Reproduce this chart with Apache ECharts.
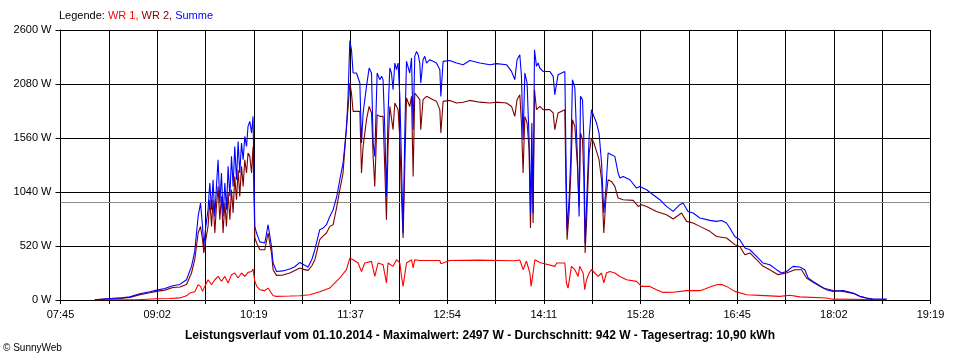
<!DOCTYPE html>
<html>
<head>
<meta charset="utf-8">
<script src="https://cdn.jsdelivr.net/npm/echarts@6/dist/echarts.min.js"></script>
<style>html,body{margin:0;padding:0;background:#fff}#c{width:960px;height:360px}</style>
</head>
<body>
<div id="c"></div>
<script>
// time values are minutes of the day (07:45 = 465)
const START_MIN = 465;
const END_MIN = 1159;
const xTickLabels = ['07:45','09:02','10:19','11:37','12:54','14:11','15:28','16:45','18:02','19:19'];
const AVERAGE_W = 942;

const wr1 = [[492.4,0],[512.3,2],[525.9,3],[541.8,12],[552.2,15],[560.2,20],[565.5,40],[568.1,67],[572.1,80],[574.8,147],[576.7,131],[578.3,83],[580.1,131],[582.7,195],[585.5,147],[588.1,195],[590.7,227],[593.4,180],[596.1,227],[598.7,164],[601.4,244],[604.0,260],[606.7,212],[609.4,260],[612.0,227],[614.6,266],[617.4,275],[618.6,298],[620.0,180],[621.6,131],[624.0,99],[628.0,90],[630.6,115],[632.0,99],[634.6,41],[637.3,35],[647.9,38],[655.9,41],[663.9,51],[671.8,80],[679.8,115],[687.8,212],[693.1,292],[695.8,404],[698.4,388],[702.4,356],[705.1,275],[707.7,356],[713.1,372],[715.7,227],[718.3,356],[722.3,340],[725.0,164],[726.3,356],[730.3,324],[733.0,388],[735.7,356],[737.0,227],[738.3,131],[741.0,356],[745.0,388],[746.3,308],[747.6,388],[751.6,380],[767.6,380],[768.4,350],[775.5,381],[799.5,384],[815.4,381],[827.4,378],[831.4,385],[834.0,292],[836.7,375],[839.4,260],[840.4,131],[842.0,260],[843.4,388],[847.3,362],[859.3,324],[860.9,356],[867.3,356],[868.6,164],[869.9,115],[872.6,324],[875.3,292],[877.9,227],[879.2,324],[881.9,260],[883.2,99],[884.6,195],[886.7,260],[888.6,292],[891.2,260],[893.8,227],[896.6,260],[898.4,164],[900.5,260],[903.2,275],[907.2,260],[911.2,227],[916.5,195],[924.5,179],[928.5,131],[935.1,131],[940.4,99],[945.7,73],[953.7,75],[964.4,90],[975.0,90],[979.0,106],[983.0,125],[988.5,147],[992.5,150],[996.3,131],[1002.9,83],[1012.2,51],[1022.8,45],[1038.8,35],[1046.8,45],[1054.7,30],[1076.0,19],[1081.1,8],[1110.6,5],[1124.1,3]];

const wr2 = [[492.4,2],[500.3,8],[512.3,15],[520.3,25],[528.3,52],[536.2,70],[541.8,83],[548.2,95],[554.6,120],[560.2,125],[565.5,150],[569.5,260],[572.1,388],[574.8,645],[576.7,709],[578.3,581],[579.3,453],[580.9,581],[582.7,709],[584.1,966],[585.5,709],[586.7,966],[588.1,645],[589.4,901],[590.7,1094],[592.1,773],[593.4,998],[594.7,645],[596.1,934],[597.4,709],[598.7,1030],[600.1,773],[601.4,1062],[602.7,838],[604.0,1190],[605.4,966],[606.7,1255],[608.0,998],[609.4,1287],[610.7,1094],[612.0,1351],[613.4,1223],[614.6,1415],[616.0,1383],[617.4,1223],[618.6,1479],[620.0,600],[621.4,549],[624.0,484],[628.0,484],[630.6,645],[633.3,450],[634.6,292],[637.3,237],[642.3,240],[647.9,260],[651.9,285],[655.9,308],[659.1,295],[662.5,285],[665.5,330],[667.9,388],[671.8,581],[674.2,612],[677.2,645],[679.8,709],[682.5,725],[685.4,900],[687.8,1060],[690.4,1223],[693.1,1672],[694.4,1850],[695.8,2090],[697.1,1993],[698.4,1816],[701.1,1816],[703.8,1816],[705.1,1223],[706.4,1479],[709.1,1736],[711.2,1864],[713.1,1801],[714.4,1383],[715.7,1094],[717.6,1784],[719.7,1768],[722.3,1768],[723.7,1255],[725.0,773],[726.3,1479],[727.7,1864],[730.3,1640],[731.7,1897],[734.3,1833],[735.7,1544],[737.0,998],[738.3,597],[739.7,1319],[741.0,1945],[743.6,1864],[745.0,1961],[746.3,1190],[747.6,1993],[749.0,2009],[751.6,1929],[752.4,1640],[754.2,1929],[757.0,1961],[762.2,1929],[764.9,1913],[767.6,1833],[768.4,1608],[770.2,1913],[775.5,1922],[780.9,1897],[786.2,1905],[791.5,1922],[799.5,1905],[807.5,1897],[812.8,1905],[820.8,1897],[824.8,1864],[827.4,1768],[829.2,1929],[831.4,1977],[832.7,1704],[834.0,1223],[835.4,1768],[837.2,1704],[838.8,1447],[839.9,693],[841.0,1383],[842.0,741],[843.1,2025],[844.7,1833],[847.3,1865],[850.0,1833],[855.3,1833],[858.0,1801],[859.3,1640],[861.9,1801],[867.3,1833],[868.1,1158],[869.1,581],[870.7,838],[872.1,1223],[873.4,1736],[875.3,1672],[876.6,1688],[877.4,1287],[878.7,901],[879.8,1608],[881.4,1544],[882.5,1158],[883.5,453],[884.6,741],[886.7,1415],[888.6,1560],[890.5,1512],[892.6,1431],[894.6,1351],[896.6,1158],[898.4,645],[900.0,966],[901.8,1158],[904.5,1142],[907.2,1094],[909.8,982],[913.8,966],[921.8,959],[925.8,901],[928.5,918],[932.5,901],[940.4,853],[948.4,821],[953.7,780],[960.4,838],[964.4,757],[969.6,741],[975.0,709],[983.0,661],[988.3,612],[996.3,597],[1002.9,533],[1006.9,516],[1010.9,436],[1014.9,453],[1020.2,388],[1025.5,324],[1030.8,292],[1037.4,244],[1044.1,260],[1050.7,292],[1056.1,292],[1060.1,212],[1065.3,170],[1073.3,115],[1081.3,92],[1089.3,83],[1097.2,64],[1102.6,35],[1107.9,19],[1112.9,8]];

const summe = [[492.4,3],[500.3,10],[512.3,20],[520.3,30],[528.3,60],[536.2,80],[541.8,95],[548.2,110],[554.6,138],[560.2,150],[565.5,195],[569.5,324],[572.1,468],[574.8,805],[576.7,934],[578.3,709],[579.3,516],[580.9,709],[582.7,870],[584.1,1127],[585.5,870],[586.7,1158],[588.1,805],[589.4,1094],[590.7,1351],[592.1,934],[593.4,1223],[594.7,805],[596.1,1127],[597.4,870],[598.7,1287],[600.1,998],[601.4,1383],[602.7,1094],[604.0,1479],[605.4,1158],[606.7,1527],[608.0,1223],[609.4,1511],[610.7,1351],[612.0,1575],[613.4,1479],[614.6,1672],[616.0,1720],[617.4,1608],[618.6,1768],[620.0,709],[621.4,645],[624.0,560],[628.0,549],[630.6,725],[633.3,516],[634.6,356],[637.3,275],[642.3,280],[647.9,298],[651.9,320],[655.9,362],[659.1,340],[662.5,318],[665.5,390],[667.9,484],[671.8,677],[674.2,690],[677.2,725],[679.8,805],[682.5,870],[685.4,998],[687.8,1158],[690.4,1319],[693.1,1640],[694.4,1961],[695.8,2497],[697.1,2410],[698.4,2186],[701.1,2186],[703.8,2090],[705.1,1512],[706.4,1801],[709.1,2057],[711.2,2234],[713.1,2186],[714.4,1512],[715.7,1383],[717.6,2186],[719.7,2122],[721.1,2154],[722.3,2122],[723.7,1640],[725.0,998],[726.3,1801],[727.7,2234],[729.0,2186],[730.3,2025],[731.7,2282],[733.0,2218],[734.3,2282],[735.7,1961],[737.0,1319],[738.3,645],[739.7,1640],[741.0,2298],[742.3,2282],[743.6,2186],[745.0,2330],[746.3,1640],[747.6,2346],[749.0,2394],[750.3,2362],[751.6,2282],[752.4,2090],[754.2,2314],[755.6,2346],[757.0,2282],[759.6,2314],[762.2,2298],[764.9,2282],[767.6,2218],[768.4,1961],[770.2,2298],[775.5,2307],[780.9,2282],[786.2,2266],[791.5,2307],[799.5,2282],[807.5,2266],[812.8,2276],[820.8,2266],[824.8,2201],[827.4,2122],[829.2,2314],[831.4,2362],[832.7,2154],[834.0,1544],[835.4,2186],[837.2,2090],[838.8,1544],[839.9,838],[841.0,1704],[842.0,838],[843.1,2410],[844.7,2250],[846.0,2282],[847.3,2234],[850.0,2201],[855.3,2201],[858.0,2154],[859.3,1977],[861.9,2170],[867.3,2201],[868.1,1479],[869.1,677],[870.7,966],[872.1,1383],[873.4,2122],[875.3,2042],[876.6,2025],[877.4,1351],[878.7,805],[879.8,1961],[881.4,1929],[882.5,1544],[883.5,549],[884.6,901],[886.7,1575],[888.6,1833],[890.5,1768],[892.6,1704],[894.6,1608],[896.6,1319],[898.4,838],[900.0,1062],[901.8,1415],[904.5,1399],[907.2,1383],[909.8,1223],[911.2,1175],[913.8,1190],[919.2,1158],[924.5,1078],[927.1,1094],[932.5,1062],[937.7,1014],[943.1,966],[948.4,901],[953.7,853],[959.0,918],[961.6,934],[965.6,853],[969.6,838],[975.0,790],[983.0,767],[988.3,757],[992.3,765],[996.3,741],[998.9,693],[1002.9,612],[1006.9,581],[1010.9,501],[1014.9,484],[1020.2,420],[1025.5,356],[1030.8,340],[1036.2,292],[1040.1,260],[1044.1,275],[1049.4,324],[1054.7,318],[1058.7,292],[1061.4,212],[1065.3,179],[1070.7,138],[1076.0,99],[1081.3,83],[1089.3,92],[1097.2,67],[1102.6,35],[1107.9,19],[1112.9,10],[1124.1,8]];

const FONT = 'Liberation Sans, Arial, sans-serif';
const SPAN = END_MIN - START_MIN;
const X_INTERVAL = SPAN / 18;
const shift = arr => arr.map(p => [p[0] - START_MIN, p[1]]);

const chart = echarts.init(document.getElementById('c'), null, {renderer: 'canvas'});
chart.setOption({
  animation: false,
  backgroundColor: '#ffffff',
  title: [
    {
      text: '{k|Legende: }{a|WR 1, }{b|WR 2, }{c|Summe}',
      left: 59, top: 10, padding: 0,
      textStyle: {
        fontFamily: FONT, fontSize: 11, fontWeight: 'normal',
        rich: {
          k: {color: '#000000', fontFamily: FONT, fontSize: 11},
          a: {color: '#ff0000', fontFamily: FONT, fontSize: 11},
          b: {color: '#800000', fontFamily: FONT, fontSize: 11},
          c: {color: '#0000ff', fontFamily: FONT, fontSize: 11}
        }
      }
    },
    {
      text: 'Leistungsverlauf vom 01.10.2014 - Maximalwert: 2497 W - Durchschnitt: 942 W - Tagesertrag: 10,90 kWh',
      left: 'center', top: 330, padding: 0,
      textStyle: {fontFamily: FONT, fontSize: 12, fontWeight: 'bold', color: '#000000'}
    },
    {
      text: '© SunnyWeb',
      left: 3, top: 343, padding: 0,
      textStyle: {fontFamily: FONT, fontSize: 10, fontWeight: 'normal', color: '#000000'}
    }
  ],
  grid: {left: 60.5, right: 29.5, top: 30, bottom: 60, containLabel: false},
  xAxis: {
    type: 'value', min: 0, max: SPAN, interval: X_INTERVAL,
    axisLine: {show: true, lineStyle: {color: '#000', width: 1}},
    axisTick: {show: true, length: 4, lineStyle: {color: '#000'}},
    splitLine: {show: true, lineStyle: {color: '#000', width: 1}},
    axisLabel: {
      margin: 9, color: '#000', fontFamily: FONT, fontSize: 11,
      showMinLabel: true, showMaxLabel: true,
      formatter: v => {
        const k = Math.round(v / X_INTERVAL);
        return (k % 2 === 0) ? (xTickLabels[k / 2] || '') : '';
      }
    }
  },
  yAxis: {
    type: 'value', min: 0, max: 2600, interval: 520,
    axisLine: {show: true, lineStyle: {color: '#000', width: 1}},
    axisTick: {show: true, length: 5, lineStyle: {color: '#000'}},
    splitLine: {show: true, lineStyle: {color: '#000', width: 1}},
    axisLabel: {margin: 9, color: '#000', fontFamily: FONT, fontSize: 11, formatter: v => String(Math.round(v)) + ' W'}
  },
  series: [
    {
      name: 'WR 1', type: 'line', data: shift(wr1), showSymbol: false, z: 3,
      lineStyle: {color: '#ff0000', width: 1.1}, itemStyle: {color: '#ff0000'},
      markLine: {
        silent: true, symbol: ['none', 'none'], label: {show: false}, z: 1,
        lineStyle: {color: '#8c8c8c', type: 'solid', width: 1},
        data: [{yAxis: AVERAGE_W}]
      }
    },
    {
      name: 'WR 2', type: 'line', data: shift(wr2), showSymbol: false, z: 4,
      lineStyle: {color: '#800000', width: 1.1}, itemStyle: {color: '#800000'}
    },
    {
      name: 'Summe', type: 'line', data: shift(summe), showSymbol: false, z: 5,
      lineStyle: {color: '#0000ff', width: 1.1}, itemStyle: {color: '#0000ff'}
    }
  ]
});
</script>
</body>
</html>
